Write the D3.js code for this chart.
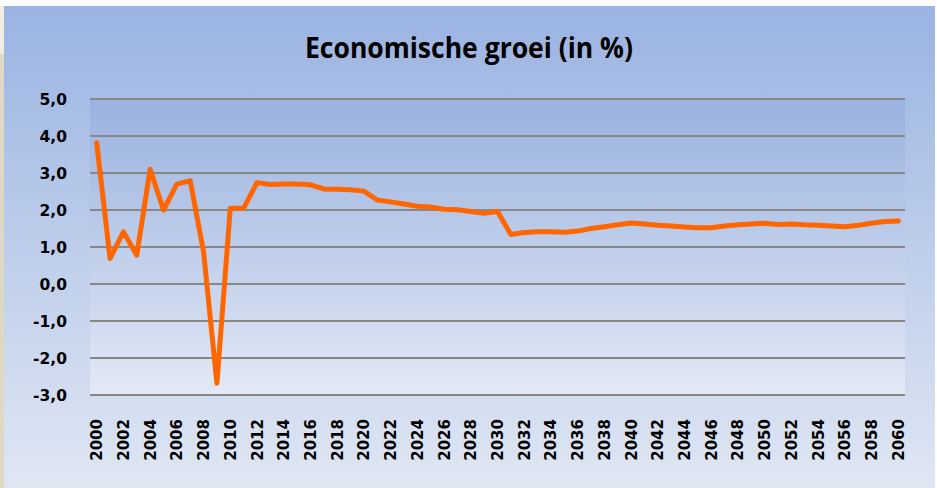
<!DOCTYPE html>
<html>
<head>
<meta charset="utf-8">
<script src="https://cdn.jsdelivr.net/npm/d3@7"></script>
<style>
  body { margin: 0; background: #fff; }
  svg { display: block; }
</style>
</head>
<body>
<svg id="chart" width="937" height="488"></svg>
<script>
// Data
const years = d3.range(2000, 2061);
const growth = [
    3.82, 0.69, 1.41, 0.78, 3.10, 2.00, 2.70, 2.79, 0.87, -2.68,
    2.05, 2.05, 2.74, 2.69, 2.70, 2.70, 2.68, 2.57, 2.56, 2.55,
    2.51, 2.27, 2.22, 2.16, 2.10, 2.08, 2.02, 2.01, 1.96, 1.91,
    1.96, 1.34, 1.39, 1.41, 1.41, 1.40, 1.43, 1.50, 1.55, 1.60,
    1.65, 1.62, 1.59, 1.57, 1.54, 1.52, 1.52, 1.57, 1.60, 1.62,
    1.64, 1.61, 1.62, 1.60, 1.59, 1.57, 1.55, 1.59, 1.64, 1.69,
    1.70
];
const yTicks = [-3, -2, -1, 0, 1, 2, 3, 4, 5];
const xTickYears = years.filter(y => y % 2 === 0);
const title = "Economische groei (in %)";

const svg = d3.select("#chart");
const plot = {left: 90, right: 905, top: 99, bottom: 395};

// Gradients
const defs = svg.append("defs");
const g1 = defs.append("linearGradient").attr("id", "bgGrad")
    .attr("x1", 0).attr("y1", 0).attr("x2", 0).attr("y2", 1);
g1.append("stop").attr("offset", "0%").attr("stop-color", "#9ab3e2");
g1.append("stop").attr("offset", "100%").attr("stop-color", "#e0e7f3");
const g2 = defs.append("linearGradient").attr("id", "plotGrad")
    .attr("x1", 0).attr("y1", 0).attr("x2", 0).attr("y2", 1);
g2.append("stop").attr("offset", "0%").attr("stop-color", "#9ab2e0");
g2.append("stop").attr("offset", "100%").attr("stop-color", "#e3e9f5");

// Page edge strip on the left
svg.append("rect").attr("x", 0).attr("y", 6).attr("width", 4).attr("height", 48).attr("fill", "#f1ede2");
svg.append("rect").attr("x", 0).attr("y", 54).attr("width", 4).attr("height", 434).attr("fill", "#ddd9c5");

// Chart area
svg.append("rect")
    .attr("x", 4).attr("y", 6)
    .attr("width", 931).attr("height", 482)
    .attr("fill", "url(#bgGrad)");

// Plot area
svg.append("rect")
    .attr("x", plot.left).attr("y", plot.top)
    .attr("width", plot.right - plot.left).attr("height", plot.bottom - plot.top)
    .attr("fill", "url(#plotGrad)");

// Scales
const x = d3.scaleBand()
    .domain(years)
    .range([plot.left, plot.right]);
const y = d3.scaleLinear()
    .domain([-3, 5])
    .range([plot.bottom, plot.top]);

// Gridlines
svg.append("g")
    .selectAll("line")
    .data(yTicks)
    .enter().append("line")
    .attr("x1", plot.left).attr("x2", plot.right)
    .attr("y1", d => y(d)).attr("y2", d => y(d))
    .attr("stroke", "#878787")
    .attr("stroke-width", 2);

// Y axis labels
svg.append("g")
    .selectAll("text")
    .data(yTicks)
    .enter().append("text")
    .attr("x", 67)
    .attr("y", d => y(d))
    .attr("dy", "0.36em")
    .attr("text-anchor", "end")
    .style("font", "bold 15.5px 'DejaVu Sans'")
    .attr("fill", "#000")
    .text(d => d3.format(".1f")(d).replace(".", ",").replace("−", "-"));

// X axis labels
svg.append("g")
    .selectAll("text")
    .data(xTickYears)
    .enter().append("text")
    .attr("transform", d => `translate(${x(d) + x.bandwidth() / 2 + 5.5},419) rotate(-90)`)
    .attr("text-anchor", "end")
    .style("font", "bold 15px 'DejaVu Sans'")
    .attr("fill", "#000")
    .text(d => d);

// Line
const line = d3.line()
    .x((d, i) => x(years[i]) + x.bandwidth() / 2)
    .y(d => y(d));

svg.append("path")
    .datum(growth)
    .attr("d", line)
    .attr("fill", "none")
    .attr("stroke", "#ff6600")
    .attr("stroke-width", 5)
    .attr("stroke-linejoin", "round")
    .attr("stroke-linecap", "round");

// Title
svg.append("text")
    .attr("x", 469)
    .attr("y", 58)
    .attr("text-anchor", "middle")
    .attr("textLength", 328)
    .attr("lengthAdjust", "spacingAndGlyphs")
    .style("font", "bold 28px 'Open Sans'")
    .attr("fill", "#000")
    .text(title);
</script>
</body>
</html>
